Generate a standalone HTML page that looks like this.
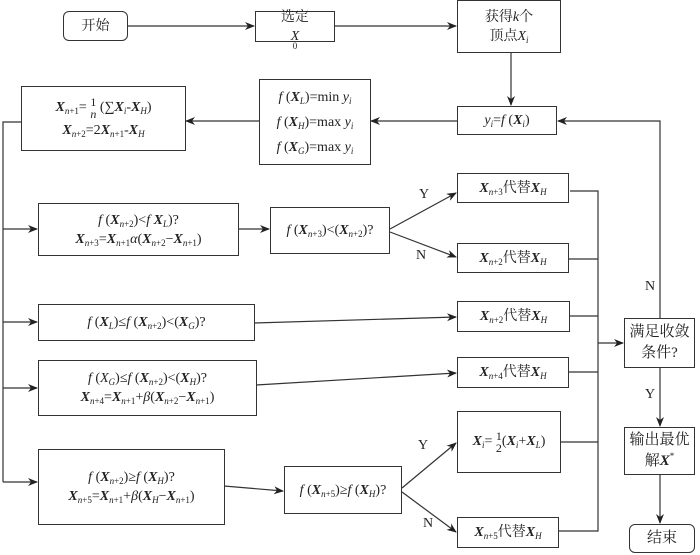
<!DOCTYPE html>
<html><head><meta charset="utf-8"><style>
body{margin:0;width:700px;height:555px;background:#fff;position:relative;overflow:hidden;font-family:"Liberation Serif","Noto Serif CJK SC",serif;color:#222}
.b{position:absolute;border:1.3px solid #333;box-sizing:border-box;display:flex;flex-direction:column;align-items:center;justify-content:center;font-size:14px;line-height:19px;text-align:center;background:#fff;white-space:nowrap}
.r{border-radius:6px}
sub{font-size:9px;vertical-align:-3px;line-height:0}
sup{font-size:9px;line-height:0}
b{font-style:italic}
i{font-style:italic}
.l{position:absolute;font-size:14px}
.fr{display:inline-flex;flex-direction:column;vertical-align:middle;font-size:12px;line-height:12px;text-align:center}
</style></head><body>
<svg width="700" height="555" style="position:absolute;left:0;top:0">
<defs><marker id="a" markerWidth="10" markerHeight="8" refX="9" refY="4" orient="auto" markerUnits="userSpaceOnUse"><path d="M0,0 L10,4 L0,8 L3,4 z" fill="#222"/></marker></defs>
<g stroke="#333" stroke-width="1.2" fill="none">
<line x1="128" y1="26" x2="254" y2="26" marker-end="url(#a)"/>
<line x1="335" y1="26" x2="456" y2="26" marker-end="url(#a)"/>
<line x1="511" y1="53" x2="511" y2="105" marker-end="url(#a)"/>
<line x1="457" y1="121" x2="371" y2="121" marker-end="url(#a)"/>
<line x1="259" y1="121" x2="186" y2="121" marker-end="url(#a)"/>
<polyline points="21,122 3,122 3,482"/>
<line x1="3" y1="229" x2="37" y2="229" marker-end="url(#a)"/>
<line x1="3" y1="322" x2="37" y2="322" marker-end="url(#a)"/>
<line x1="3" y1="388" x2="37" y2="388" marker-end="url(#a)"/>
<line x1="3" y1="482" x2="37" y2="482" marker-end="url(#a)"/>
<line x1="239" y1="229" x2="269" y2="229" marker-end="url(#a)"/>
<line x1="390" y1="229" x2="456" y2="193" marker-end="url(#a)"/>
<line x1="390" y1="232" x2="456" y2="257" marker-end="url(#a)"/>
<line x1="254" y1="323" x2="456" y2="317" marker-end="url(#a)"/>
<line x1="256" y1="385" x2="456" y2="373" marker-end="url(#a)"/>
<line x1="224" y1="486" x2="283" y2="491" marker-end="url(#a)"/>
<line x1="402" y1="488" x2="456" y2="443" marker-end="url(#a)"/>
<line x1="402" y1="492" x2="456" y2="532" marker-end="url(#a)"/>
<polyline points="570,191 598,191 598,531 558,531"/>
<line x1="569" y1="259" x2="598" y2="259"/>
<line x1="570" y1="316" x2="598" y2="316"/>
<line x1="569" y1="372" x2="598" y2="372"/>
<line x1="561" y1="442" x2="598" y2="442"/>
<line x1="598" y1="343" x2="623" y2="343" marker-end="url(#a)"/>
<polyline points="660,318 660,121 558,121" marker-end="url(#a)"/>
<line x1="660" y1="367" x2="660" y2="426" marker-end="url(#a)"/>
<line x1="660" y1="474" x2="660" y2="523" marker-end="url(#a)"/>
</g></svg>
<div class="b r" style="left:63px;top:11px;width:65px;height:30px">开始</div>
<div class="b" style="left:255px;top:11px;width:80px;height:31px">选定<i>X</i><sub>0</sub></div>
<div class="b" style="left:457px;top:0;width:104px;height:53px"><div>获得<i>k</i>个</div><div>顶点<i>X<sub>i</sub></i></div></div>
<div class="b" style="left:457px;top:106px;width:100px;height:29px"><div><i>y<sub>i</sub></i>=<i>f</i> (<b>X</b><sub><i>i</i></sub>)</div></div>
<div class="b" style="left:259px;top:79px;width:112px;height:86px;line-height:25px"><div><i>f</i> (<b>X</b><sub><i>L</i></sub>)=min <i>y<sub>i</sub></i></div><div><i>f</i> (<b>X</b><sub><i>H</i></sub>)=max <i>y<sub>i</sub></i></div><div><i>f</i> (<b>X</b><sub><i>G</i></sub>)=max <i>y<sub>i</sub></i></div></div>
<div class="b" style="left:21px;top:86px;width:165px;height:65px;line-height:22px"><div><b>X</b><sub><i>n</i>+1</sub>= <span class="fr"><span>1</span><span><i>n</i></span></span> (∑<b>X</b><sub><i>i</i></sub>-<b>X</b><sub><i>H</i></sub>)</div><div><b>X</b><sub><i>n</i>+2</sub>=2<b>X</b><sub><i>n</i>+1</sub>-<b>X</b><sub><i>H</i></sub></div></div>
<div class="b" style="left:38px;top:203px;width:201px;height:53px"><div><i>f</i> (<b>X</b><sub><i>n</i>+2</sub>)&lt;<i>f</i> <b>X</b><sub><i>L</i></sub>)?</div><div><b>X</b><sub><i>n</i>+3</sub>=<b>X</b><sub><i>n</i>+1</sub><i>α</i>(<b>X</b><sub><i>n</i>+2</sub>−<b>X</b><sub><i>n</i>+1</sub>)</div></div>
<div class="b" style="left:270px;top:207px;width:120px;height:47px"><div><i>f</i> (<b>X</b><sub><i>n</i>+3</sub>)&lt;(<b>X</b><sub><i>n</i>+2</sub>)?</div></div>
<div class="b" style="left:457px;top:173px;width:112px;height:30px"><div><b>X</b><sub><i>n</i>+3</sub>代替<b>X</b><sub><i>H</i></sub></div></div>
<div class="b" style="left:457px;top:243px;width:112px;height:30px"><div><b>X</b><sub><i>n</i>+2</sub>代替<b>X</b><sub><i>H</i></sub></div></div>
<div class="b" style="left:38px;top:304px;width:217px;height:37px"><div><i>f</i> (<b>X</b><sub><i>L</i></sub>)≤<i>f</i> (<b>X</b><sub><i>n</i>+2</sub>)&lt;(<b>X</b><sub><i>G</i></sub>)?</div></div>
<div class="b" style="left:457px;top:301px;width:113px;height:31px"><div><b>X</b><sub><i>n</i>+2</sub>代替<b>X</b><sub><i>H</i></sub></div></div>
<div class="b" style="left:38px;top:360px;width:219px;height:56px"><div><i>f</i> (<i>X</i><sub><i>G</i></sub>)≤<i>f</i> (<b>X</b><sub><i>n</i>+2</sub>)&lt;(<b>X</b><sub><i>H</i></sub>)?</div><div><b>X</b><sub><i>n</i>+4</sub>=<b>X</b><sub><i>n</i>+1</sub>+<i>β</i>(<b>X</b><sub><i>n</i>+2</sub>−<b>X</b><sub><i>n</i>+1</sub>)</div></div>
<div class="b" style="left:457px;top:357px;width:112px;height:31px"><div><b>X</b><sub><i>n</i>+4</sub>代替<b>X</b><sub><i>H</i></sub></div></div>
<div class="b" style="left:38px;top:449px;width:187px;height:76px"><div><i>f</i> (<b>X</b><sub><i>n</i>+2</sub>)≥<i>f</i> (<b>X</b><sub><i>H</i></sub>)?</div><div><b>X</b><sub><i>n</i>+5</sub>=<b>X</b><sub><i>n</i>+1</sub>+<i>β</i>(<b>X</b><sub><i>H</i></sub>−<b>X</b><sub><i>n</i>+1</sub>)</div></div>
<div class="b" style="left:284px;top:466px;width:118px;height:48px"><div><i>f</i> (<b>X</b><sub><i>n</i>+5</sub>)≥<i>f</i> (<b>X</b><sub><i>H</i></sub>)?</div></div>
<div class="b" style="left:457px;top:411px;width:104px;height:62px"><div><b>X</b><sub><i>i</i></sub>= <span class="fr"><span>1</span><span>2</span></span>(<b>X</b><sub><i>i</i></sub>+<b>X</b><sub><i>L</i></sub>)</div></div>
<div class="b" style="left:457px;top:517px;width:102px;height:31px"><div><b>X</b><sub><i>n</i>+5</sub>代替<b>X</b><sub><i>H</i></sub></div></div>
<div class="b" style="left:624px;top:318px;width:71px;height:50px;font-size:15px;line-height:21px"><div>满足收敛</div><div>条件?</div></div>
<div class="b" style="left:624px;top:427px;width:71px;height:48px;font-size:15px;line-height:21px"><div>输出最优</div><div>解<b>X</b><sup>*</sup></div></div>
<div class="b r" style="left:629px;top:524px;width:66px;height:29px;font-size:15px">结束</div>
<div class="l" style="left:419px;top:187px">Y</div>
<div class="l" style="left:416px;top:248px">N</div>
<div class="l" style="left:418px;top:438px">Y</div>
<div class="l" style="left:423px;top:516px">N</div>
<div class="l" style="left:645px;top:279px">N</div>
<div class="l" style="left:645px;top:387px">Y</div>
</body></html>
